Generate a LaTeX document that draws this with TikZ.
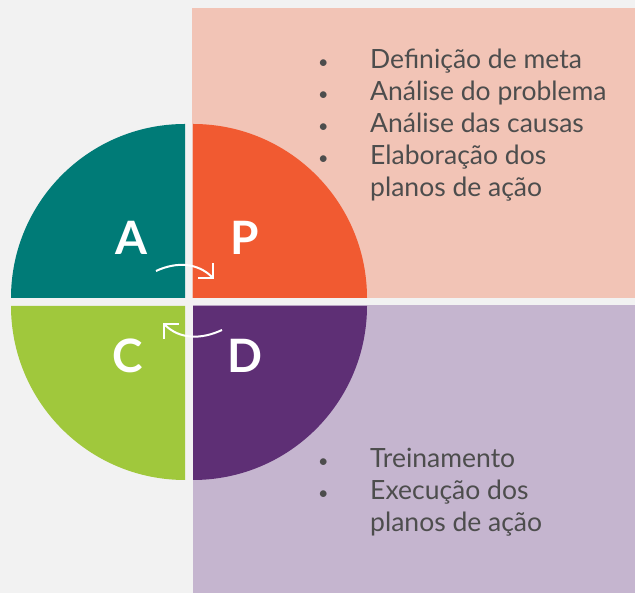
\documentclass[tikz,border=0pt]{standalone}
\usepackage{fontspec}
\setmainfont{Lato}
\usetikzlibrary{arrows.meta}
\definecolor{pageGray}{HTML}{F2F2F2}
\definecolor{planPink}{HTML}{F2C4B6}
\definecolor{doLilac}{HTML}{C5B5CF}
\definecolor{actTeal}{HTML}{007B77}
\definecolor{planOrange}{HTML}{F15A31}
\definecolor{checkGreen}{HTML}{A0C83C}
\definecolor{doPurple}{HTML}{5E2F75}
\definecolor{listGray}{HTML}{4D4D4D}
\tikzset{
  letter/.style={text=white, font=\fontsize{46}{46}\selectfont\bfseries, inner sep=0pt},
  steps/.style={text=listGray, font=\fontsize{26.5}{32}\selectfont, align=left, inner sep=0pt, anchor=north west},
  cycle arrow/.style={draw=white, line width=2pt, -{Straight Barb[length=10.5pt, width=21pt, line width=2pt]}}
}
\newcommand{\bul}{\makebox[52pt][l]{\fontsize{18}{32}\selectfont\textbullet}}
\newcommand{\nobul}{\hspace*{52pt}}
\begin{document}
\begin{tikzpicture}[x=1pt,y=1pt]
\fill[pageGray] (0,0) rectangle (635,593);
\useasboundingbox (0,0) rectangle (635,593);

% background panels
\fill[planPink] (192,295) rectangle (635,585);
\fill[doLilac] (193,0) rectangle (635,288);

% the four quarters
\fill[actTeal] (185,295) -- (11,295) arc[start angle=180, end angle=90, radius=174] -- cycle;
\fill[planOrange] (193,295) -- (193,469) arc[start angle=90, end angle=0, radius=174] -- cycle;
\fill[checkGreen] (185,287) -- (11,287) arc[start angle=180, end angle=270, radius=174] -- cycle;
\fill[doPurple] (193,287) -- (193,113) arc[start angle=270, end angle=360, radius=174] -- cycle;

\node[letter] (act) at (131,355) {A};
\node[letter] (plan) at (245,355) {P};
\node[letter] (check) at (128,237) {C};
\node[letter] (do) at (245,237) {D};

% arrows between the quarters
\coordinate (apTail) at (156,322);
\coordinate (apHead) at (214,314);
\coordinate (dcTail) at (222,263);
\coordinate (dcHead) at (163,270);
\draw[cycle arrow] (apTail) to[out=25, in=135] (apHead);
\draw[cycle arrow] (dcTail) to[out=205, in=-45] (dcHead);

% lists
\node[steps] (planList) at (318,544) {\bul Definição de meta\\
\bul Análise do problema\\
\bul Análise das causas\\
\bul Elaboração dos\\
\nobul planos de ação};
\node[steps] (doList) at (318,145) {\bul Treinamento\\
\bul Execução dos\\
\nobul planos de ação};
\end{tikzpicture}
\end{document}
